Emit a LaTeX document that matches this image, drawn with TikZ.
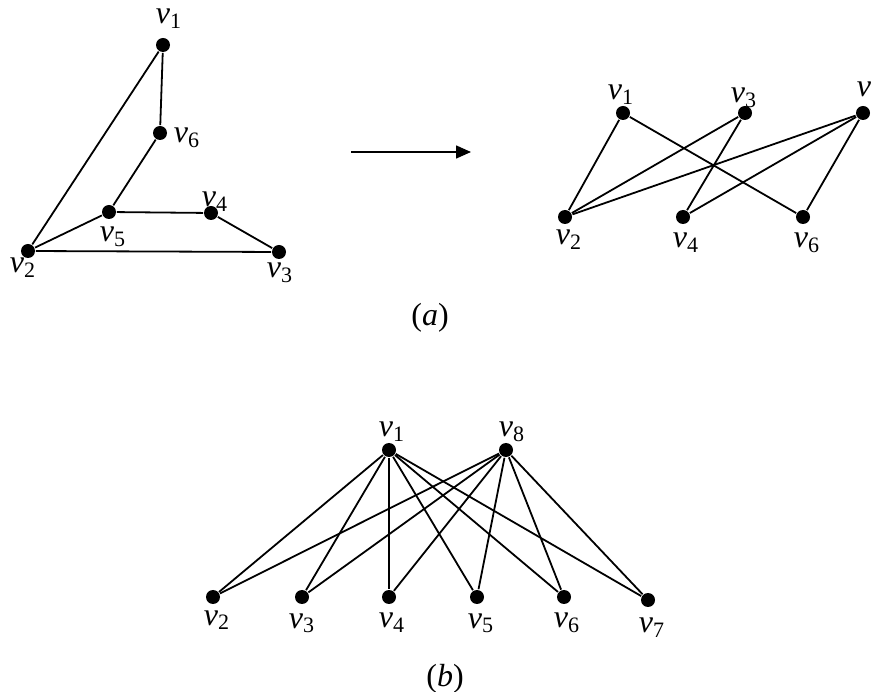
\documentclass[tikz,border=0pt]{standalone}
\usepackage{fontspec}
\setmainfont{Liberation Serif}
\usetikzlibrary{arrows.meta}

\newcommand{\vlab}[1]{\textit{v}\raisebox{-5pt}{\fontsize{22}{22}\selectfont #1}}

\begin{document}
\begin{tikzpicture}[x=1pt, y=-1pt, line width=1.8pt,
    vert/.style={circle, fill, inner sep=0pt, minimum size=14pt},
    lab/.style={anchor=base west, inner sep=0pt, font=\fontsize{32}{38}\selectfont},
    captext/.style={inner sep=0pt, font=\fontsize{32}{38}\selectfont}]
  \useasboundingbox (0,0) rectangle (871,692);

  % (a) left: the graph
  \node[vert] (a1) at (163,45) {};
  \node[vert] (a6) at (160,133) {};
  \node[vert] (a5) at (109,212) {};
  \node[vert] (a4) at (211,213) {};
  \node[vert] (a3) at (279,252) {};
  \node[vert] (a2) at (28,251) {};
  \foreach \p/\q in {1/2,1/6,6/5,5/2,5/4,4/3,2/3}
    \draw (a\p) -- (a\q);

  \node[lab] (la1) at (155,24) {\vlab{1}};
  \node[lab] (la6) at (173,143) {\vlab{6}};
  \node[lab] (la4) at (201,207) {\vlab{4}};
  \node[lab] (la5) at (99,242) {\vlab{5}};
  \node[lab] (la2) at (9,273) {\vlab{2}};
  \node[lab] (la3) at (266,278) {\vlab{3}};

  % arrow
  \coordinate (arrs) at (351,152);
  \coordinate (arre) at (471,152);
  \draw[line width=1.5pt, -{Triangle[length=15pt,width=13pt]}] (arrs) -- (arre);

  % (a) right: drawn as bipartite graph
  \node[vert] (b1) at (623,113) {};
  \node[vert] (b3) at (745,113) {};
  \node[vert] (b5) at (863,113) {};
  \node[vert] (b2) at (565,217) {};
  \node[vert] (b4) at (683,217) {};
  \node[vert] (b6) at (803,217) {};
  \foreach \p/\q in {1/2,1/6,3/2,3/4,5/2,5/4,5/6}
    \draw (b\p) -- (b\q);

  \node[lab] (lb1) at (607,100) {\vlab{1}};
  \node[lab] (lb3) at (730,103) {\vlab{3}};
  \node[lab] (lb5) at (856,97) {\vlab{5}};
  \node[lab] (lb2) at (555,245) {\vlab{2}};
  \node[lab] (lb4) at (672,248) {\vlab{4}};
  \node[lab] (lb6) at (793,248) {\vlab{6}};

  \node[captext] (capa) at (430,318) {(\textit{a})};

  % (b)
  \node[vert] (c1) at (389,450) {};
  \node[vert] (c8) at (506,450) {};
  \node[vert] (c2) at (213,597) {};
  \node[vert] (c3) at (302,597) {};
  \node[vert] (c4) at (389,597) {};
  \node[vert] (c5) at (477,597) {};
  \node[vert] (c6) at (564,597) {};
  \node[vert] (c7) at (648,600) {};
  \foreach \k in {2,...,7} {
    \draw (c1) -- (c\k);
    \draw (c8) -- (c\k);
  }

  \node[lab] (lc1) at (378,437) {\vlab{1}};
  \node[lab] (lc8) at (498,437) {\vlab{8}};
  \node[lab] (lc2) at (203,625) {\vlab{2}};
  \node[lab] (lc3) at (288,628) {\vlab{3}};
  \node[lab] (lc4) at (378,627) {\vlab{4}};
  \node[lab] (lc5) at (467,628) {\vlab{5}};
  \node[lab] (lc6) at (553,627) {\vlab{6}};
  \node[lab] (lc7) at (638,633) {\vlab{7}};

  \node[captext] (capb) at (445,679) {(\textit{b})};
\end{tikzpicture}
\end{document}
